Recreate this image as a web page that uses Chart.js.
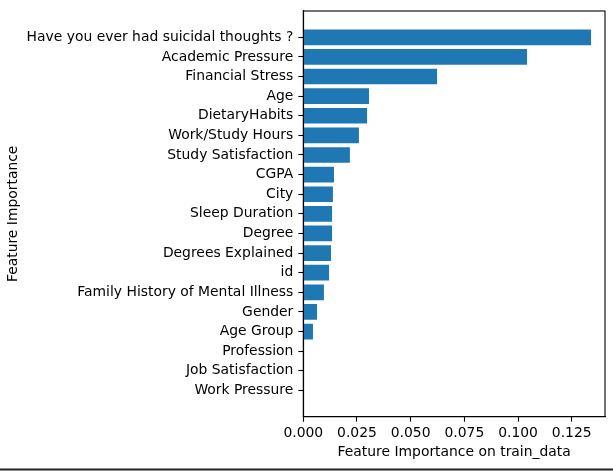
<!DOCTYPE html>
<html>
<head>
<meta charset="utf-8">
<script src="https://cdn.jsdelivr.net/npm/chart.js@4/dist/chart.umd.min.js"></script>
<style>
  html, body { margin: 0; padding: 0; background: #fff; }
  #wrap { width: 613px; height: 471px; }
</style>
</head>
<body>
<div id="wrap"><canvas id="importanceChart" width="613" height="471"></canvas></div>
<script>
// features sorted top to bottom
const features = [
    'Have you ever had suicidal thoughts ?',
    'Academic Pressure',
    'Financial Stress',
    'Age',
    'DietaryHabits',
    'Work/Study Hours',
    'Study Satisfaction',
    'CGPA',
    'City',
    'Sleep Duration',
    'Degree',
    'Degrees Explained',
    'id',
    'Family History of Mental Illness',
    'Gender',
    'Age Group',
    'Profession',
    'Job Satisfaction',
    'Work Pressure'
];
const importance = [
    0.1340, 0.1042, 0.0623, 0.0306, 0.0297, 0.0259, 0.0217, 0.0143, 0.0138,
    0.0134, 0.0134, 0.0129, 0.0120, 0.0096, 0.0064, 0.0045, 0.0, 0.0, 0.0
];
const xTicks = [0, 0.025, 0.05, 0.075, 0.1, 0.125];

const fontFamily = '"DejaVu Sans", sans-serif';
const fontSize = 13.9;

// matplotlib draws a box on all four sides, plus the line at the page bottom
const framePlugin = {
    id: 'frame',
    afterDraw(chart) {
        const { ctx, chartArea } = chart;
        ctx.save();
        ctx.strokeStyle = '#000';
        ctx.lineWidth = 1.1;
        ctx.strokeRect(chartArea.left, chartArea.top,
            chartArea.right - chartArea.left, chartArea.bottom - chartArea.top);
        ctx.strokeStyle = '#222';
        ctx.lineWidth = 2;
        ctx.beginPath();
        ctx.moveTo(0, 469.5);
        ctx.lineTo(chart.width, 469.5);
        ctx.stroke();
        ctx.restore();
    }
};

const ctx = document.getElementById('importanceChart').getContext('2d');
const chart = new Chart(ctx, {
    type: 'bar',
    data: {
        datasets: [{
            data: importance.map((v, i) => ({ x: v, y: i })),
            backgroundColor: '#1f77b4',
            borderWidth: 0,
            categoryPercentage: 1.0,
            barPercentage: 0.8
        }]
    },
    options: {
        indexAxis: 'y',
        responsive: false,
        animation: false,
        devicePixelRatio: 1,
        layout: { padding: { top: 11, right: 8, bottom: 0, left: 0 } },
        plugins: {
            legend: { display: false },
            tooltip: { enabled: false }
        },
        scales: {
            x: {
                type: 'linear',
                min: 0,
                max: 0.1405,
                afterBuildTicks: scale => {
                    scale.ticks = xTicks.map(v => ({ value: v }));
                },
                afterFit: scale => { scale.height = 54.3; },
                grid: { drawOnChartArea: false, drawTicks: true, tickLength: 5, color: '#000', tickWidth: 1.1 },
                border: { display: true, color: '#000', width: 1.1 },
                ticks: {
                    padding: 3,
                    color: '#000',
                    maxRotation: 0,
                    autoSkip: false,
                    font: { family: fontFamily, size: fontSize },
                    callback: v => v.toFixed(3)
                },
                title: {
                    display: true,
                    text: 'Feature Importance on train_data',
                    color: '#000',
                    font: { family: fontFamily, size: fontSize },
                    padding: { top: 0, bottom: 10.5 }
                }
            },
            y: {
                type: 'linear',
                reverse: true,
                offset: false,
                min: -1.34,
                max: features.length - 1 + 1.34,
                afterBuildTicks: scale => {
                    scale.ticks = features.map((f, i) => ({ value: i }));
                },
                afterFit: scale => {
                    scale.width = 303.3;
                    scale.paddingTop = 0;
                    scale.paddingBottom = 0;
                },
                grid: { offset: false, drawOnChartArea: false, drawTicks: true, tickLength: 5, color: '#000', tickWidth: 1.1 },
                border: { display: true, color: '#000', width: 1.1 },
                ticks: {
                    padding: 5,
                    color: '#000',
                    autoSkip: false,
                    font: { family: fontFamily, size: fontSize },
                    callback: v => features[v]
                },
                title: {
                    display: true,
                    text: 'Feature Importance',
                    color: '#000',
                    font: { family: fontFamily, size: fontSize },
                    padding: { top: 5, bottom: 0 }
                }
            }
        }
    },
    plugins: [framePlugin]
});
</script>
</body>
</html>
